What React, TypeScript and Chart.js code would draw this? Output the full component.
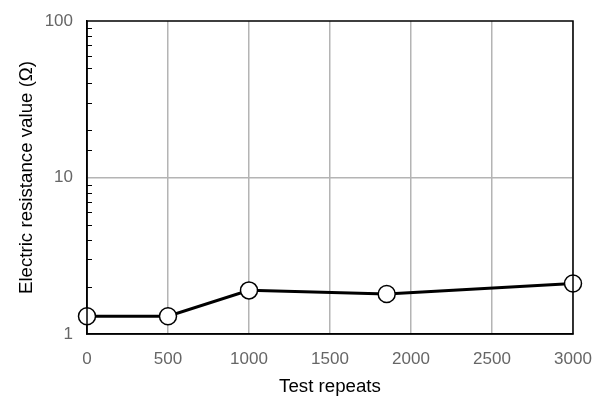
import React, { useEffect, useRef } from "react";
import { Chart, registerables } from "chart.js";

Chart.register(...registerables);

const repeats = [0, 500, 1000, 1850, 3000];
const resistance = [1.3, 1.3, 1.9, 1.8, 2.1];
const yMajorTicks = [1, 10, 100];
const xTitle = "Test repeats";
const yTitle = "Electric resistance value (Ω)";

const tickFont = { family: "'Liberation Sans', Arial, sans-serif", size: 17, lineHeight: 1.2 };
const titleFont = { family: "'Liberation Sans', Arial, sans-serif", size: 18.7, lineHeight: 1 };

const framePlugin = {
  id: "frame",
  afterDatasetsDraw(chart: any) {
    const { ctx, chartArea, scales } = chart;
    const y = scales.y;
    ctx.save();
    ctx.strokeStyle = "#000";
    ctx.lineWidth = 1;
    y.ticks.forEach((t: any) => {
      if (yMajorTicks.includes(t.value)) return;
      const py = Math.round(y.getPixelForValue(t.value)) + 0.5;
      ctx.beginPath();
      ctx.moveTo(chartArea.left, py);
      ctx.lineTo(chartArea.left + 5, py);
      ctx.stroke();
    });
    ctx.lineWidth = 1.5;
    ctx.strokeRect(chartArea.left, chartArea.top, chartArea.right - chartArea.left, chartArea.bottom - chartArea.top);
    ctx.restore();
  },
};

export default function App() {
  const ref = useRef<HTMLCanvasElement>(null);
  useEffect(() => {
    document.body.style.margin = "0";
    const chart = new Chart(ref.current!, {
      type: "line",
      data: {
        datasets: [
          {
            data: repeats.map((x, i) => ({ x, y: resistance[i] })),
            borderColor: "#000",
            borderWidth: 3,
            pointRadius: 8.5,
            pointBackgroundColor: "#fff",
            pointBorderColor: "#000",
            pointBorderWidth: 1.5,
            tension: 0,
            clip: false,
          },
        ],
      },
      options: {
        animation: false,
        responsive: false,
        maintainAspectRatio: false,
        layout: { autoPadding: false, padding: { top: 21, right: 22, bottom: 0, left: 18 } },
        plugins: { legend: { display: false }, tooltip: { enabled: false } },
        scales: {
          x: {
            type: "linear",
            min: 0,
            max: 3000,
            afterFit: (s: any) => {
              s.height = 62;
              s.paddingLeft = 0;
              s.paddingRight = 0;
            },
            ticks: { stepSize: 500, color: "#666", font: tickFont, padding: 15, maxRotation: 0, callback: (v: any) => String(v) },
            grid: { color: "#b4b4b4", lineWidth: 1.5, drawTicks: false },
            border: { color: "#000", width: 1.5 },
            title: { display: true, text: xTitle, color: "#000", font: titleFont, padding: { top: 10, bottom: 0 } },
          },
          y: {
            type: "logarithmic",
            min: 1,
            max: 100,
            afterFit: (s: any) => {
              s.width = 69;
              s.paddingTop = 0;
              s.paddingBottom = 0;
            },
            ticks: {
              color: "#666",
              font: tickFont,
              padding: 14,
              autoSkip: false,
              callback: (v: any) => (yMajorTicks.includes(Number(v)) ? String(v) : ""),
            },
            grid: {
              color: (c: any) => (c.tick && c.tick.value === 10 ? "#b4b4b4" : "rgba(0,0,0,0)"),
              lineWidth: 1.5,
              drawTicks: false,
            },
            border: { color: "#000", width: 1.5 },
            title: { display: true, text: yTitle, color: "#000", font: titleFont, padding: { top: 0, bottom: 8 } },
          },
        },
      },
      plugins: [framePlugin],
    } as any);
    return () => chart.destroy();
  }, []);
  return (
    <div style={{ width: 595, height: 396, background: "#fff" }}>
      <canvas ref={ref} width={595} height={396} />
    </div>
  );
}
